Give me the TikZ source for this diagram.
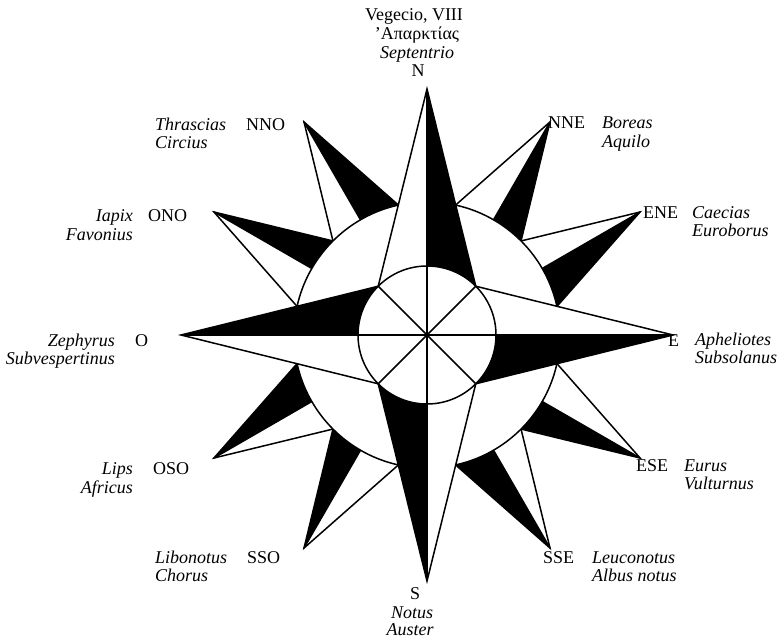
\documentclass[tikz,border=0pt]{standalone}
\usepackage{fontspec}
\setmainfont{Liberation Serif}
\begin{document}
\begin{tikzpicture}[x=1pt,y=-1pt,
  lab/.style={inner sep=0pt, font=\fontsize{18}{18}\selectfont},
  itl/.style={inner sep=0pt, font=\fontsize{18}{18}\selectfont\itshape},
  rl/.style={line width=1.5pt, line join=miter}]
\useasboundingbox (0,0) rectangle (778,639);
\def\R{246}\def\rb{133}\def\ra{69}
\begin{scope}[shift={(427,335)}]
  % intermediate points
  \foreach \b/\c/\w in {30/12.4/45, 60/45/77.6, 120/102.4/135, 150/135/167.6,
                        210/192.4/225, 240/225/257.6, 300/282.4/315, 330/315/347.6}{
    \coordinate (t\b) at (\b-90:\R);
    \coordinate (m\b) at (\b-90:\rb);
    \coordinate (cc\b) at (\c-90:\rb);
    \coordinate (cw\b) at (\w-90:\rb);
    \fill[black] (t\b) -- (m\b) -- (cw\b) -- cycle;
    \draw[rl] (cc\b) -- (t\b) -- (cw\b);
    \draw[rl] (t\b) -- (m\b);
  }
  \filldraw[rl, fill=white] (0,0) circle (\rb);
  % main points
  \foreach \b in {0,90,180,270}{
    \coordinate (T\b) at (\b-90:\R);
    \coordinate (A\b) at (\b-45:\ra);
    \coordinate (B\b) at (\b-135:\ra);
    \fill[white] (T\b) -- (B\b) -- (0,0) -- cycle;
    \fill[black] (T\b) -- (A\b) -- (0,0) -- cycle;
    \draw[rl] (B\b) -- (T\b) -- (A\b);
    \draw[rl] (T\b) -- (0,0);
  }
  \filldraw[rl, fill=white] (0,0) circle (\ra);
  \foreach \a in {0,45,90,135}{
    \draw[rl] (\a:\ra) -- (\a+180:\ra);
  }
  \fill (0,0) circle (2.2);
\end{scope}
% North
\node[lab, anchor=base] (n1) at (414,21) {Vegecio, VIII};
\node[lab, anchor=base] (n2) at (417,40) {’Απαρκτίας};
\node[itl, anchor=base] (n3) at (417,59) {Septentrio};
\node[lab, anchor=base] (n4) at (418,77) {N};
% NNO
\node[itl, anchor=base west] (nno1) at (155,131) {Thrascias};
\node[itl, anchor=base west] (nno2) at (155,149) {Circius};
\node[lab, anchor=base west] (nno) at (246,131) {NNO};
% NNE
\node[lab, anchor=base west] (nne) at (548,129) {NNE};
\node[itl, anchor=base west] (nne1) at (602,129) {Boreas};
\node[itl, anchor=base west] (nne2) at (602,148) {Aquilo};
% ONO
\node[lab, anchor=base west] (ono) at (148,221) {ONO};
\node[itl, anchor=base east] (ono1) at (133,221) {Iapix};
\node[itl, anchor=base east] (ono2) at (133,240) {Favonius};
% ENE
\node[lab, anchor=base west] (ene) at (643,218) {ENE};
\node[itl, anchor=base west] (ene1) at (692,218) {Caecias};
\node[itl, anchor=base west] (ene2) at (692,236) {Euroborus};
% O
\node[lab, anchor=base west] (o) at (135,346) {O};
\node[itl, anchor=base east] (o1) at (115,346) {Zephyrus};
\node[itl, anchor=base east] (o2) at (115,364) {Subvespertinus};
% E
\node[lab, anchor=base west] (e) at (668,346) {E};
\node[itl, anchor=base west] (e1) at (695,345) {Apheliotes};
\node[itl, anchor=base west] (e2) at (695,363) {Subsolanus};
% OSO
\node[lab, anchor=base west] (oso) at (153,474) {OSO};
\node[itl, anchor=base east] (oso1) at (133,474) {Lips};
\node[itl, anchor=base east] (oso2) at (133,493) {Africus};
% ESE
\node[lab, anchor=base west] (ese) at (636,471) {ESE};
\node[itl, anchor=base west] (ese1) at (684,471) {Eurus};
\node[itl, anchor=base west] (ese2) at (684,489) {Vulturnus};
% SSO
\node[lab, anchor=base west] (sso) at (247,563) {SSO};
\node[itl, anchor=base west] (sso1) at (155,563) {Libonotus};
\node[itl, anchor=base west] (sso2) at (155,581) {Chorus};
% SSE
\node[lab, anchor=base west] (sse) at (543,563) {SSE};
\node[itl, anchor=base west] (sse1) at (592,563) {Leuconotus};
\node[itl, anchor=base west] (sse2) at (592,581) {Albus notus};
% S
\node[lab, anchor=base] (s) at (415,599) {S};
\node[itl, anchor=base] (s1) at (412,618) {Notus};
\node[itl, anchor=base] (s2) at (410,635) {Auster};
\end{tikzpicture}
\end{document}
